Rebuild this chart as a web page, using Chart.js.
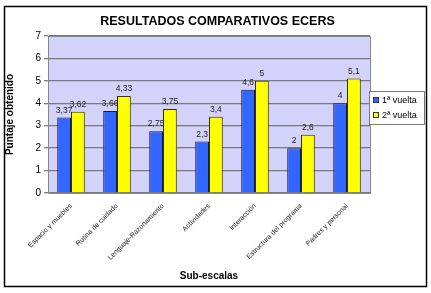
<!DOCTYPE html>
<html>
<head>
<meta charset="utf-8">
<script src="https://cdn.jsdelivr.net/npm/chart.js@4"></script>
<style>
  html, body { margin: 0; padding: 0; background: #fff; }
  #wrap { width: 431px; height: 293px; }
</style>
</head>
<body>
<div id="wrap"><canvas id="ecers" width="431" height="293"></canvas></div>
<script>
var subescalas = [
  "Espacio y muebles",
  "Rutina de cuidado",
  "Lenguaje-Razonamiento",
  "Actividades",
  "Interacción",
  "Estructura del programa",
  "Padres y personal"
];
var vuelta1 = [3.37, 3.66, 2.75, 2.3, 4.6, 2, 4];
var vuelta2 = [3.62, 4.33, 3.75, 3.4, 5, 2.6, 5.1];
var serieNombres = ["1ª vuelta", "2ª vuelta"];
var serieColores = ["#3366FF", "#FFFF00"];

function coma(v) {
  return String(v).replace(".", ",");
}

// white page, outer frame and lavender plot background
var fondo = {
  id: "fondo",
  beforeDraw: function (chart) {
    var c = chart.ctx, a = chart.chartArea;
    c.save();
    c.fillStyle = "#fff";
    c.fillRect(0, 0, chart.width, chart.height);
    c.strokeStyle = "#000";
    c.lineWidth = 1.5;
    c.strokeRect(4.5, 6.5, 422, 280);
    c.fillStyle = "#D2D2FA";
    c.fillRect(a.left, a.top, a.right - a.left, a.bottom - a.top);
    c.strokeStyle = "#888";
    c.lineWidth = 1;
    c.strokeRect(a.left + 0.5, a.top + 0.5, a.right - a.left, a.bottom - a.top);
    c.restore();
  }
};

// values above bars
var etiquetas = {
  id: "etiquetas",
  afterDatasetsDraw: function (chart) {
    var c = chart.ctx;
    c.save();
    c.font = "8.5px Arial, 'Liberation Sans'";
    c.fillStyle = "#222";
    c.textAlign = "center";
    c.textBaseline = "bottom";
    chart.data.datasets.forEach(function (ds, i) {
      chart.getDatasetMeta(i).data.forEach(function (bar, j) {
        c.fillText(coma(ds.data[j]), bar.x, bar.y - 3);
      });
    });
    c.restore();
  }
};

// legend box on the right
var leyenda = {
  id: "leyenda",
  afterDraw: function (chart) {
    var c = chart.ctx;
    var x = 369, y = 91, w = 55, h = 33;
    c.save();
    c.fillStyle = "#fff";
    c.fillRect(x, y, w, h);
    c.strokeStyle = "#777";
    c.lineWidth = 1;
    c.strokeRect(x + 0.5, y + 0.5, w, h);
    c.font = "9px Arial, 'Liberation Sans'";
    c.textBaseline = "middle";
    serieNombres.forEach(function (n, i) {
      var yy = y + 9 + i * 15;
      c.fillStyle = serieColores[i];
      c.fillRect(x + 4, yy - 3, 6, 6);
      c.strokeStyle = "#333";
      c.strokeRect(x + 4.5, yy - 2.5, 5, 5);
      c.fillStyle = "#000";
      c.fillText(n, x + 13, yy + 1);
    });
    c.restore();
  }
};

new Chart(document.getElementById("ecers"), {
  type: "bar",
  data: {
    labels: subescalas,
    datasets: [
      {
        label: serieNombres[0],
        data: vuelta1,
        backgroundColor: serieColores[0],
        borderColor: "#1a1a40",
        borderWidth: 1
      },
      {
        label: serieNombres[1],
        data: vuelta2,
        backgroundColor: serieColores[1],
        borderColor: "#333300",
        borderWidth: 1
      }
    ]
  },
  options: {
    responsive: false,
    animation: false,
    layout: { padding: { left: 4, right: 0, top: 0, bottom: 9 } },
    categoryPercentage: 0.6,
    barPercentage: 1,
    plugins: {
      legend: { display: false },
      tooltip: { enabled: false },
      title: {
        display: true,
        text: "RESULTADOS COMPARATIVOS ECERS",
        color: "#000",
        font: { family: "Arial, 'Liberation Sans'", size: 12.5, weight: "bold" },
        padding: { top: 14, bottom: 7 }
      }
    },
    scales: {
      x: {
        grid: { display: false, drawTicks: true },
        border: { color: "#888" },
        ticks: {
          color: "#222",
          minRotation: 45,
          maxRotation: 45,
          autoSkip: false,
          padding: 1,
          font: { family: "Arial, 'Liberation Sans'", size: 7 }
        },
        title: {
          display: true,
          text: "Sub-escalas",
          color: "#000",
          font: { family: "Arial, 'Liberation Sans'", size: 10, weight: "bold" },
          padding: { top: 0, bottom: 2 }
        },
        afterFit: function (s) { s.height = 91; }
      },
      y: {
        min: 0,
        max: 7,
        border: { color: "#888" },
        grid: { color: "#7a7a7a", lineWidth: 1.3, tickLength: 4 },
        ticks: {
          stepSize: 1,
          color: "#000",
          padding: 3,
          font: { family: "Arial, 'Liberation Sans'", size: 10 }
        },
        title: {
          display: true,
          text: "Puntaje obtenido",
          color: "#000",
          font: { family: "Arial, 'Liberation Sans'", size: 10, weight: "bold" },
          padding: { top: 0, bottom: 4 }
        },
        afterFit: function (s) { s.width = 44; }
      },
      // empty right axis: keeps room for the legend box
      derecha: {
        position: "right",
        display: true,
        grid: { display: false },
        border: { display: false },
        ticks: { display: false },
        afterFit: function (s) { s.width = 61; }
      }
    }
  },
  plugins: [fondo, etiquetas, leyenda]
});
</script>
</body>
</html>
